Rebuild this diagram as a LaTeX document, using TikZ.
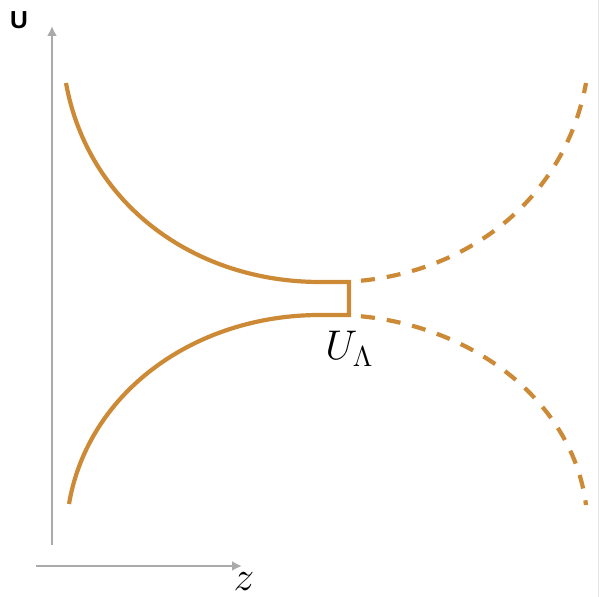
\documentclass[tikz,border=0pt]{standalone}
\usepackage{fontspec}
\usetikzlibrary{arrows.meta}
\newfontfamily\arialfont{Liberation Sans}
\definecolor{curveor}{RGB}{204,138,54}
\definecolor{axisgray}{RGB}{170,170,170}
\definecolor{edgegray}{RGB}{228,228,228}
\begin{document}
\begin{tikzpicture}[x=0.5pt,y=-0.5pt,
  axis/.style={draw=axisgray,line width=1.2pt,-{Latex[length=5pt,width=5pt]}},
  solidcurve/.style={draw=curveor,line width=2.1pt,line join=miter},
  dashcurve/.style={draw=curveor,line width=2.1pt,dash pattern=on 7pt off 6pt,dash phase=-1.5pt},
  lbl/.style={inner sep=0pt}]
\useasboundingbox (0,0) rectangle (600,597);
% axes
\coordinate (yb) at (52,545);
\coordinate (yt) at (52,26);
\coordinate (xl) at (36,566);
\coordinate (xr) at (242,566);
\draw[axis] (yb) -- (yt);
\draw[axis] (xl) -- (xr);
\node[lbl,font=\arialfont\bfseries\fontsize{12.3}{12.3}\selectfont] (ulabel) at (19,20.5) {U};
\node[lbl,font=\fontsize{21}{21}\selectfont,anchor=base] (zlabel) at (244,591) {$z$};
% right edge
\draw[edgegray,line width=0.5pt] (598.5,0) -- (598.5,597);
% solid curves
\coordinate (ua) at (66,83);
\coordinate (ub) at (320,282);
\coordinate (uc) at (349,282);
\coordinate (ud) at (349,315);
\coordinate (ue) at (320,315);
\coordinate (uf) at (69,504);
\draw[solidcurve] (ua) .. controls (88,205) and (195,282) .. (ub) -- (uc) -- (ud) -- (ue)
  .. controls (195,315) and (88,392) .. (uf);
% dashed curves
\coordinate (da) at (358,281);
\coordinate (db) at (586,83);
\coordinate (dc) at (358,316);
\coordinate (dd) at (586,505);
\draw[dashcurve] (da) .. controls (471.6,271) and (565.5,196.5) .. (db);
\draw[dashcurve] (dc) .. controls (475.3,326.3) and (573,402.7) .. (dd);
% label
\node[lbl,font=\fontsize{20}{20}\selectfont,anchor=base west] (ulam) at (325,360) {$U_\Lambda$};
\end{tikzpicture}
\end{document}
